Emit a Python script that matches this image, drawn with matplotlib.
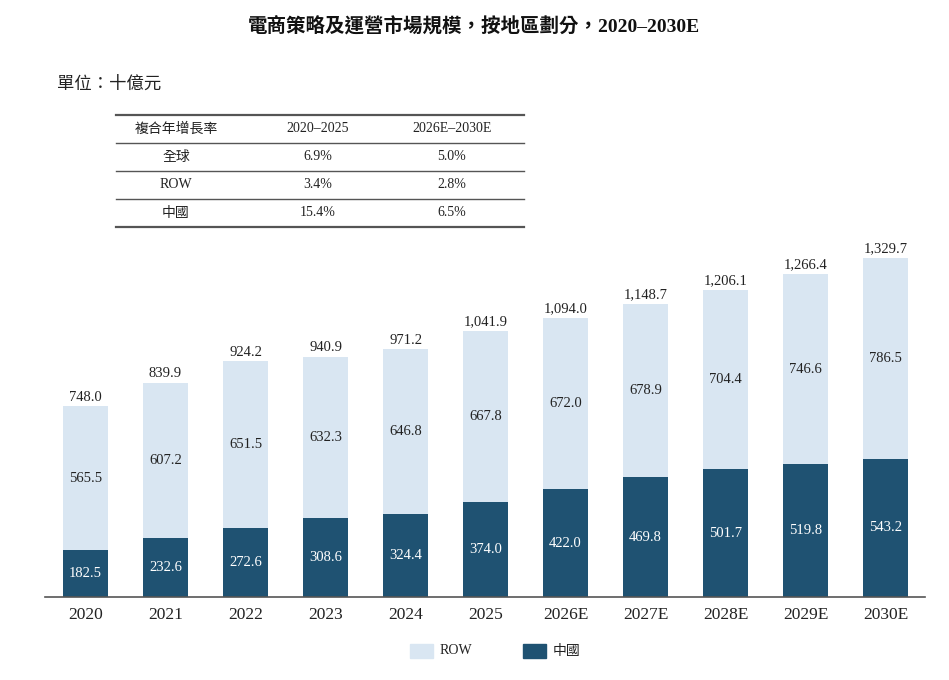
import matplotlib
matplotlib.use("Agg")
import matplotlib.pyplot as plt
from matplotlib.lines import Line2D
from matplotlib.patches import Rectangle

years = ["2020", "2021", "2022", "2023", "2024", "2025", "2026E", "2027E", "2028E", "2029E", "2030E"]
china = [182.5, 232.6, 272.6, 308.6, 324.4, 374.0, 422.0, 469.8, 501.7, 519.8, 543.2]
row = [565.5, 607.2, 651.5, 632.3, 646.8, 667.8, 672.0, 678.9, 704.4, 746.6, 786.5]
totals = [748.0, 839.9, 924.2, 940.9, 971.2, 1041.9, 1094.0, 1148.7, 1206.1, 1266.4, 1329.7]

cagr_header = ["複合年增長率", "2020–2025", "2026E–2030E"]
cagr_rows = [["全球", "6.9%", "5.0%"], ["ROW", "3.4%", "2.8%"], ["中國", "15.4%", "6.5%"]]

DARK = "#1f5272"
LIGHT = "#d9e6f2"
FAM = ["Liberation Serif", "Noto Sans CJK TC", "DejaVu Sans"]
plt.rcParams["font.family"] = FAM

W, H = 949, 680
fig = plt.figure(figsize=(W / 100, H / 100), dpi=100)

def fx(px):
    return px / W

def fy(py):
    return 1 - py / H

# axes: x from 45 to 925 px, y from baseline 597 to 258 px
left, right = 45, 925
base, top = 597, 258
ax = fig.add_axes([fx(left), fy(base), fx(right - left), (base - top) / H])
spacing = 80.0
c0 = 85.5
ax.set_xlim(-(c0 - left) / spacing, (right - c0) / spacing)
ax.set_ylim(0, max(totals))
x = list(range(len(years)))
bw = 45 / spacing
ax.bar(x, china, width=bw, color=DARK, zorder=2)
ax.bar(x, row, bottom=china, width=bw, color=LIGHT, zorder=2)
for s in ["top", "right", "left"]:
    ax.spines[s].set_visible(False)
ax.spines["bottom"].set_color("#555555")
ax.spines["bottom"].set_linewidth(1.2)
ax.set_yticks([])
ax.set_xticks(x)
ax.set_xticklabels(years, fontsize=12.5, color="#222222")
ax.tick_params(axis="x", length=0, pad=7)

for i in x:
    ax.text(i, china[i] / 2, f"{china[i]:,.1f}", ha="center", va="center", color="white", fontsize=10.5)
    ax.text(i, china[i] + row[i] / 2, f"{row[i]:,.1f}", ha="center", va="center", color="#222222", fontsize=10.5)
    ax.annotate(f"{totals[i]:,.1f}", (i, totals[i]), xytext=(0, 2), textcoords="offset points",
                ha="center", va="bottom", color="#222222", fontsize=10.5, annotation_clip=False)

# title
fig.text(fx(474), fy(27), "電商策略及運營市場規模，按地區劃分，2020–2030E", ha="center", va="center",
         fontsize=14, fontweight="bold", color="#111111")
fig.text(fx(57), fy(85), "單位：十億元", ha="left", va="center", fontsize=12.5, color="#222222")

# table
tx0, tx1 = 116, 524
lines_y = [115, 143, 171, 199, 227]
for j, ly in enumerate(lines_y):
    lw = 1.6 if j in (0, 4) else 1.0
    fig.add_artist(Line2D([fx(tx0), fx(tx1)], [fy(ly), fy(ly)], color="#555555", lw=lw))
col_x = [176, 318, 452]
rows_all = [cagr_header] + cagr_rows
for r, vals in enumerate(rows_all):
    cy = (lines_y[r] + lines_y[r + 1]) / 2
    for c, v in enumerate(vals):
        fig.text(fx(col_x[c]), fy(cy), v, ha="center", va="center", fontsize=10, color="#222222")

# legend
fig.add_artist(Rectangle((fx(410), fy(658)), fx(23), 14 / H, color=LIGHT, transform=fig.transFigure))
fig.text(fx(440), fy(651), "ROW", ha="left", va="center", fontsize=10, color="#222222")
fig.add_artist(Rectangle((fx(523), fy(658)), fx(23), 14 / H, color=DARK, transform=fig.transFigure))
fig.text(fx(553), fy(651), "中國", ha="left", va="center", fontsize=10, color="#222222")

fig.savefig("out.png", dpi=100, facecolor="white")
